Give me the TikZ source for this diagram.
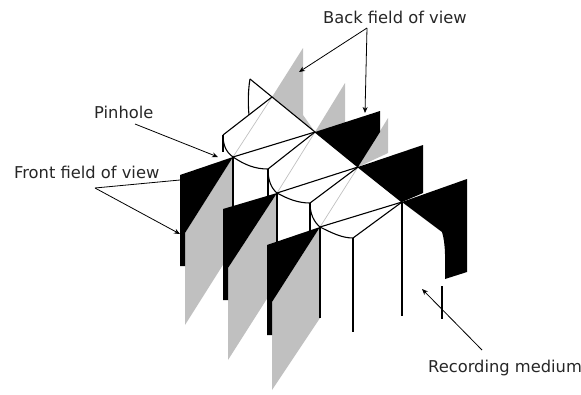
\documentclass[tikz,border=0pt]{standalone}
\usepackage{fontspec}
\setmainfont{DejaVu Sans}
\usetikzlibrary{arrows.meta}
\definecolor{panelgray}{RGB}{192,192,192}
\tikzset{
  x=1pt,y=-1pt,
  ln/.style={draw=black,line width=1.1pt,line join=round},
  blk/.style={fill=black},
  gry/.style={fill=panelgray},
  thin gray/.style={draw=panelgray,line width=0.7pt},
  lbl/.style={font=\fontsize{16.3}{18}\selectfont,text=black!85,inner sep=0pt,anchor=west},
  pointer/.style={draw=black,line width=0.8pt},
  tip/.style={pointer,-{Stealth[length=6pt,width=5pt]}}
}
\begin{document}
\begin{tikzpicture}
\useasboundingbox (0,0) rectangle (581,394);
% key points
\coordinate (P1) at (233,157);
\coordinate (P2) at (277,193);
\coordinate (P3) at (320,227);
\coordinate (T1) at (315,132);
\coordinate (T2) at (358,167);
\coordinate (T3) at (402,202);
\coordinate (K1) at (268,169);
\coordinate (K2) at (310,203);
\coordinate (K3) at (353,238);
\coordinate (A) at (250,79);
\coordinate (B) at (272,97);
\coordinate (C) at (223,135);
% back gray panels
\fill[gry] (303,48) -- (303,115) -- (T1) -- (B) -- cycle;
\fill[gry] (345,83) -- (345,124) -- (T1) -- cycle;
\fill[gry] (388,118) -- (388,153) -- (T2) -- cycle;
% back black panels
\fill[blk] (T1) -- (380,111) -- (380,132) -- (T2) -- cycle;
\fill[blk] (T2) -- (423,145) -- (423,193) -- (T3) -- cycle;
\fill[blk] (T3) -- (467,179) -- (467,272) -- (445,279)
  .. controls (445,262) and (446,245) .. (442,232) -- cycle;
% thin gray creases
\draw[thin gray] (B) -- (P1);
\draw[thin gray] (T1) -- (P2);
\draw[thin gray] (T2) -- (P3);
% top structure
\draw[ln] (A) -- (T1) -- (T2) -- (T3);
\draw[ln] (A) .. controls (248,90) and (248,105) .. (249,115);
\draw[ln] (B) -- (C);
\draw[ln] (C) .. controls (223,145) and (226,152) .. (P1);
\draw[ln] (223,135) -- (223,152);
\draw[ln] (P1) -- (T1);
\draw[ln] (P1) .. controls (245,165) and (255,169) .. (K1) -- (T1);
\draw[ln] (K1) .. controls (268,180) and (271,188) .. (P2);
\draw[ln] (K1) -- (268,205);
\draw[ln] (P2) -- (T2);
\draw[ln] (P2) .. controls (288,199) and (298,203) .. (K2) -- (T2);
\draw[ln] (K2) .. controls (310,214) and (314,222) .. (P3);
\draw[ln] (K2) -- (310,240);
\draw[ln] (P3) -- (T3);
\draw[ln] (P3) .. controls (332,233) and (342,238) .. (K3) -- (T3);
\draw[ln] (K3) -- (353,332);
\draw[ln] (T3) -- (402,316);
\draw[ln] (442,286) -- (442,319);
% front panel 1
\fill[gry] (P1) -- (185,233) -- (185,325) -- (233,249) -- cycle;
\draw[ln] (P1) -- (233,215);
\fill[blk] (180,175) -- (P1) -- (185,233) -- (185,266) -- (180,266) -- cycle;
% front panel 2
\fill[gry] (P2) -- (228,268) -- (228,360) -- (277,283) -- cycle;
\draw[ln] (P2) -- (277,250);
\fill[blk] (223,209) -- (P2) -- (228,268) -- (228,300) -- (223,300) -- cycle;
% front panel 3
\fill[gry] (P3) -- (272,302) -- (272,390) -- (320,318) -- cycle;
\draw[ln] (P3) -- (320,318);
\fill[blk] (267,245) -- (P3) -- (272,302) -- (272,335) -- (267,335) -- cycle;
% labels
\node[lbl] (lback) at (323,17) {Back field of view};
\node[lbl] (lpin) at (94,112.5) {Pinhole};
\node[lbl] (lfront) at (14,172.5) {Front field of view};
\node[lbl] (lrec) at (428,368) {Recording medium};
% pointer ends
\coordinate (backapex) at (367,28);
\coordinate (backa) at (299,72);
\coordinate (backb) at (365,113);
\coordinate (pinS) at (135,124);
\coordinate (pinE) at (218,157);
\coordinate (frontapex) at (95,188);
\coordinate (fronta) at (180,180);
\coordinate (frontb) at (180,234);
\coordinate (recS) at (482,350);
\coordinate (recE) at (422,289);
\draw[tip] (backapex) -- (backa);
\draw[tip] (backapex) -- (backb);
\draw[tip] (pinS) -- (pinE);
\draw[pointer] (frontapex) -- (fronta);
\draw[tip] (frontapex) -- (frontb);
\draw[tip] (recS) -- (recE);
\end{tikzpicture}
\end{document}
